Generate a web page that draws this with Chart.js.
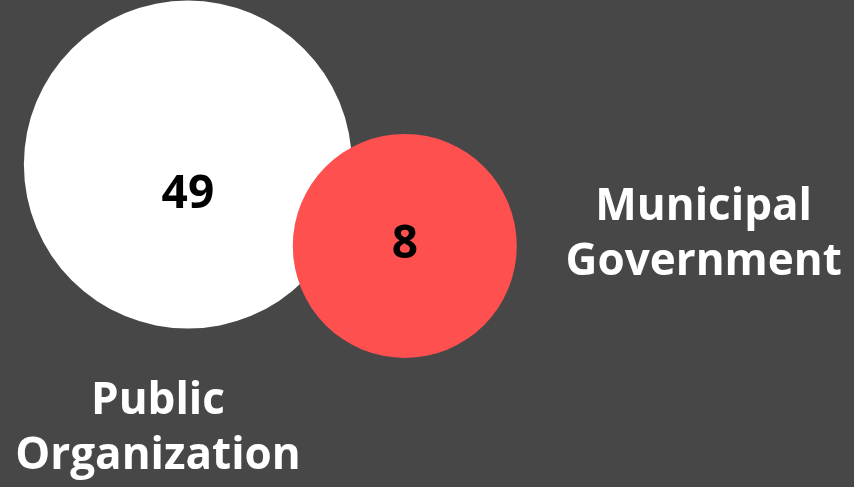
<!DOCTYPE html>
<html>
<head>
<meta charset="utf-8">
<script src="https://cdn.jsdelivr.net/npm/chart.js@4/dist/chart.umd.min.js"></script>
<style>
    html, body { margin: 0; padding: 0; background: #474747; }
    #wrap { width: 854px; height: 487px; position: relative; }
</style>
</head>
<body>
<div id="wrap"><canvas id="venn"></canvas></div>
<script>
// Venn data
const categories = ['Public Organization', 'Municipal Government'];
const values = [49, 8];
const circleColors = ['#ffffff', '#ff5050'];

// layout of the diagram in scale units (0-100 both ways)
const centersX = [22.0, 47.4];
const centersY = [33.8, 50.5];
const radii = [164, 112];
const labelX = [18.5, 82.4];
const labelY = [88.0, 48.3];

const FONT = '"Open Sans", "DejaVu Sans", sans-serif';

// draws the counts inside the circles and the category names beside them
const vennLabels = {
    id: 'vennLabels',
    afterDatasetsDraw(chart) {
        const ctx = chart.ctx;
        const xs = chart.scales.x;
        const ys = chart.scales.y;
        const meta = chart.getDatasetMeta(0);
        ctx.save();
        ctx.textAlign = 'center';
        ctx.textBaseline = 'middle';

        meta.data.forEach((pt, i) => {
            ctx.fillStyle = '#000000';
            ctx.font = 'bold 46px ' + FONT;
            ctx.fillText(String(values[i]), pt.x, pt.y + (i === 0 ? 30 : -1));
        });

        ctx.fillStyle = '#ffffff';
        ctx.font = 'bold 44px ' + FONT;
        categories.forEach((name, i) => {
            const words = name.split(' ');
            const cx = xs.getPixelForValue(labelX[i]);
            const cy = ys.getPixelForValue(labelY[i]);
            const lh = 55;
            words.forEach((w, j) => {
                ctx.fillText(w, cx, cy + (j - (words.length - 1) / 2) * lh);
            });
        });
        ctx.restore();
    }
};

const ctx = document.getElementById('venn');
new Chart(ctx, {
    type: 'bubble',
    data: {
        labels: categories,
        datasets: [{
            data: values.map((v, i) => ({ x: centersX[i], y: centersY[i], r: radii[i] })),
            backgroundColor: circleColors,
            hoverBackgroundColor: circleColors,
            borderWidth: 0,
            hoverBorderWidth: 0,
            hoverRadius: 0,
            clip: false
        }]
    },
    options: {
        responsive: true,
        maintainAspectRatio: false,
        animation: false,
        events: [],
        layout: { padding: 0, autoPadding: false },
        plugins: {
            legend: { display: false },
            tooltip: { enabled: false }
        },
        scales: {
            x: { type: 'linear', min: 0, max: 100, display: false },
            y: { type: 'linear', min: 0, max: 100, reverse: true, display: false }
        }
    },
    plugins: [vennLabels]
});
</script>
</body>
</html>
